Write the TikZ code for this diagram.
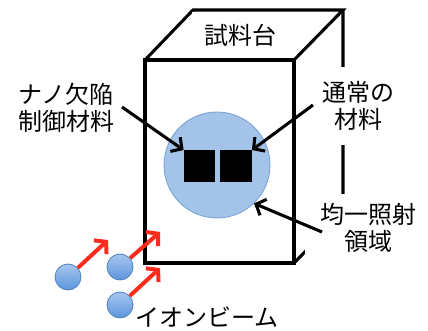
\documentclass[tikz,border=0pt]{standalone}
\usepackage{fontspec}
\setmainfont{Noto Sans CJK JP}
\usetikzlibrary{arrows.meta}
\definecolor{spotblue}{HTML}{A4C3E8}
\definecolor{spotedge}{HTML}{739FD3}
\definecolor{iontop}{HTML}{A6C6F0}
\definecolor{ionbottom}{HTML}{5D95DB}
\definecolor{ionedge}{HTML}{4F81BD}
\definecolor{beamred}{HTML}{FF2B1C}

\begin{document}
\begin{tikzpicture}[
  x=0.75pt, y=-0.75pt,
  box/.style={line width=2.3pt},
  caption/.style={font=\fontsize{18}{20}\selectfont, align=center, fill=white, inner sep=9pt},
  defect/.style={rectangle, fill=black, minimum size=23.5pt, inner sep=0pt},
  ion/.style={circle, draw=ionedge, line width=0.6pt, top color=iontop, bottom color=ionbottom, minimum size=19.5pt, inner sep=0pt},
  pointer/.style={line width=2.3pt, -{Straight Barb[length=6pt,width=13pt]}},
  beam/.style={draw=beamred, line width=3pt, -{Straight Barb[length=6pt,width=14pt]}}
]
  \useasboundingbox (0,0) rectangle (428,331);

  % sample stage
  \draw[box] (145,60) rectangle (294,263);
  \draw[box] (145,60) -- (193,10) -- (343,10) -- (294,60);
  \draw[box] (343,10) -- (343,213) -- (294,263);

  % irradiated spot and the two materials
  \node[circle, draw=spotedge, line width=0.6pt, fill=spotblue, minimum size=79.5pt, inner sep=0pt] (spot) at (217,165) {};
  \node[defect] (nanomat) at (199.5,166) {};
  \node[defect] (usualmat) at (236,166) {};

  % labels
  \node[caption] (stage) at (240,35) {試料台};
  \node[caption] (nano) at (66,108) {ナノ欠陥\\制御材料};
  \node[caption, inner xsep=6pt, inner ysep=11pt] (usual) at (358,106) {通常の\\材料};
  \node[caption, inner xsep=11pt, inner ysep=7pt] (even) at (368,228) {均一照射\\領域};
  \node[font=\fontsize{18}{20}\selectfont] (beamlabel) at (207,317) {イオンビーム};

  \coordinate (nanofrom) at (122,107);
  \coordinate (usualfrom) at (313,105);
  \coordinate (evenfrom) at (322,232);
  \draw[pointer] (nanofrom) -- (nanomat.north west);
  \draw[pointer] (usualfrom) -- (usualmat.north east);
  \draw[pointer] (evenfrom) -- (spot.-46);

  % incoming ions
  \node[ion] (ion1) at (68,277) {};
  \node[ion] (ion2) at (120,267) {};
  \node[ion] (ion3) at (120,305) {};
  \coordinate (hit1) at (108,240);
  \coordinate (hit2) at (160,232);
  \coordinate (hit3) at (160,268);
  \draw[beam] (ion1) -- (hit1);
  \draw[beam] (ion2) -- (hit2);
  \draw[beam] (ion3) -- (hit3);
\end{tikzpicture}
\end{document}
